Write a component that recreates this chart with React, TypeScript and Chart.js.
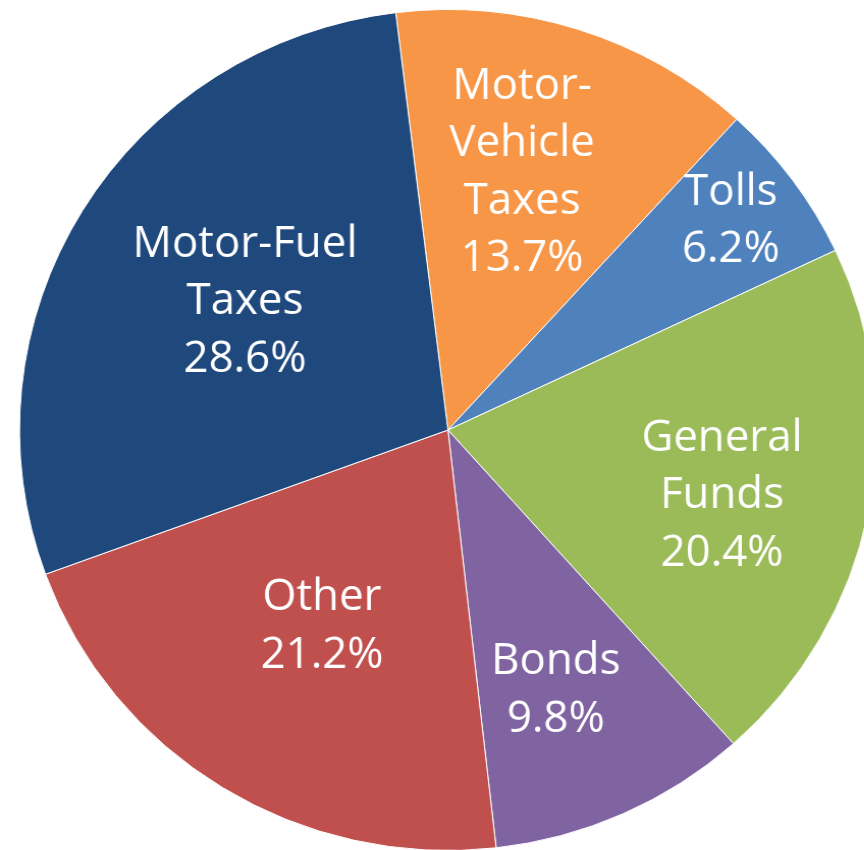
import React, { useEffect, useRef } from "react";
import { Chart, registerables } from "chart.js";

Chart.register(...registerables);

const categoryLines: string[][] = [
  ["Motor-", "Vehicle", "Taxes"],
  ["Tolls"],
  ["General", "Funds"],
  ["Bonds"],
  ["Other"],
  ["Motor-Fuel", "Taxes"],
];
const values: number[] = [13.7, 6.2, 20.4, 9.8, 21.2, 28.6];
const colors: string[] = ["#F79646", "#4F81BD", "#9BBB59", "#8064A2", "#C0504D", "#1F497D"];
const labelRadiusFraction: number[] = [0.643, 0.83, 0.657, 0.663, 0.547, 0.567];
const labelAngleFraction: number[] = [0.458, 0.462, 0.524, 0.551, 0.51, 0.518];

const labelPlugin = {
  id: "sliceLabels",
  afterDatasetsDraw(chart: any) {
    const ctx = chart.ctx as CanvasRenderingContext2D;
    const meta = chart.getDatasetMeta(0);
    ctx.save();
    ctx.fillStyle = "#FFFFFF";
    ctx.font = '43px "Open Sans", "Noto Sans", sans-serif';
    ctx.textAlign = "center";
    ctx.textBaseline = "middle";
    const lineH = 57.5;
    meta.data.forEach((arc: any, i: number) => {
      const p = arc.getProps(["x", "y", "startAngle", "endAngle", "outerRadius"], true);
      const ang = p.startAngle + (p.endAngle - p.startAngle) * labelAngleFraction[i];
      const r = p.outerRadius * labelRadiusFraction[i];
      const cx = p.x + Math.cos(ang) * r;
      const cy = p.y + Math.sin(ang) * r + 3;
      const lines = [...categoryLines[i], values[i].toFixed(1) + "%"];
      const top = cy - ((lines.length - 1) * lineH) / 2;
      lines.forEach((ln, k) => ctx.fillText(ln, cx, top + k * lineH));
    });
    ctx.restore();
  },
};

export default function App() {
  const ref = useRef<HTMLCanvasElement | null>(null);
  useEffect(() => {
    if (!ref.current) return;
    const chart = new Chart(ref.current, {
      type: "pie",
      data: {
        labels: categoryLines.map((l) => l.join(" ")),
        datasets: [
          {
            data: values,
            backgroundColor: colors,
            borderColor: "#FFFFFF",
            borderWidth: 1,
          },
        ],
      },
      options: {
        responsive: false,
        animation: false,
        rotation: -7,
        layout: { padding: { left: 18.6, right: 39.4, top: 9, bottom: 29 } },
        plugins: {
          legend: { display: false },
          tooltip: { enabled: false },
        },
      },
      plugins: [labelPlugin],
    });
    return () => chart.destroy();
  }, []);
  return (
    <div style={{ position: "absolute", left: 0, top: 0, width: 864, height: 850, overflow: "hidden", background: "#fff" }}>
      <div style={{ width: 900, height: 880, transform: "scaleX(1.019)", transformOrigin: "0 0" }}>
        <canvas ref={ref} width={900} height={880} style={{ width: 900, height: 880, display: "block" }} />
      </div>
    </div>
  );
}
